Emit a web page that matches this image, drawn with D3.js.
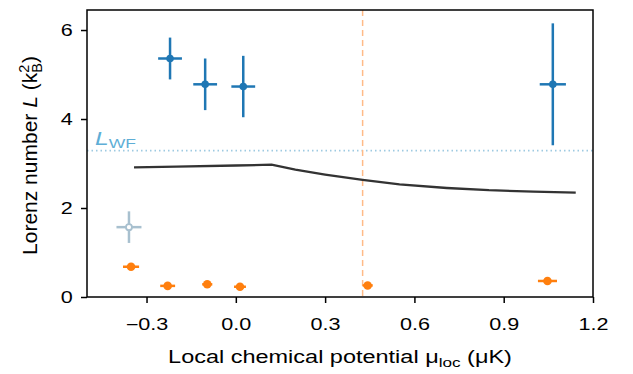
<!DOCTYPE html>
<html>
<head>
<meta charset="utf-8">
<script src="https://cdn.jsdelivr.net/npm/d3@7"></script>
<style>
  body { margin: 0; background: #fff; }
  #chart { width: 633px; height: 374px; }
  text { font-family: "Liberation Sans", Arial, Helvetica, sans-serif; }
</style>
</head>
<body>
<div id="chart"></div>
<script>
// measured Lorenz number (blue)
var blueMu   = [-0.221, -0.103, 0.025, 1.065],
    blueL    = [5.36, 4.78, 4.73, 4.78],
    blueLErr = [0.47, 0.58, 0.69, 1.37],
    blueMuErr = [0.04, 0.04, 0.04, 0.044];

// excluded point (hollow)
var hollowMu = [-0.359], hollowL = [1.57], hollowLErr = [0.355], hollowMuErr = [0.042];

// orange series
var orangeMu = [-0.352, -0.229, -0.096, 0.014, 0.443, 1.047],
    orangeL  = [0.68, 0.25, 0.285, 0.23, 0.26, 0.36],
    orangeLErr = [0.03, 0.03, 0.03, 0.03, 0.03, 0.03],
    orangeMuErr = [0.027, 0.025, 0.017, 0.02, 0.017, 0.032];

// theory curve
var curveMu = [-0.342, -0.2, 0.0, 0.12, 0.2, 0.3, 0.426, 0.55, 0.709, 0.85, 1.0, 1.142],
    curveL  = [2.915, 2.93, 2.955, 2.973, 2.86, 2.75, 2.63, 2.53, 2.45, 2.40, 2.37, 2.345];

var wfL = 3.29,        // Wiedemann-Franz value pi^2/3
    muVline = 0.426;

var xTicks = [-0.3, 0.0, 0.3, 0.6, 0.9, 1.2],
    yTicks = [0, 2, 4, 6];

var margin = {top: 10, right: 40, bottom: 77, left: 87},
    width = 633 - margin.left - margin.right,
    height = 374 - margin.top - margin.bottom;

// the figure's lettering is a bit wider than tall
var stretch = 1.35;

var x = d3.scaleLinear().domain([-0.5, 1.2]).range([0, width]),
    y = d3.scaleLinear().domain([0, 6.45]).range([height, 0]);

var svg = d3.select("#chart").append("svg")
    .attr("width", 633)
    .attr("height", 374)
    .append("g")
    .attr("transform", "translate(" + margin.left + "," + margin.top + ")");

function wideText(px, py, sx) {
    return svg.append("g")
        .attr("transform", "translate(" + px + "," + py + ") scale(" + sx + ",1)")
        .append("text");
}

// reference lines
svg.append("line")
    .attr("x1", 0).attr("x2", width)
    .attr("y1", y(wfL)).attr("y2", y(wfL))
    .attr("stroke", "#9ecae1")
    .attr("stroke-width", 1.6)
    .attr("stroke-dasharray", "1.5,3");

wideText(8, y(wfL) - 6, 1.3)
    .attr("fill", "#5eaed6")
    .style("font-size", "19px")
    .call(function (t) {
        t.append("tspan").style("font-style", "italic").text("L");
        t.append("tspan").attr("dy", 3).style("font-size", "13.5px").text("WF");
    });

svg.append("line")
    .attr("x1", x(muVline)).attr("x2", x(muVline))
    .attr("y1", 0).attr("y2", height)
    .attr("stroke", "#ffbb88")
    .attr("stroke-width", 1.5)
    .attr("stroke-dasharray", "6,4");

// theory curve
var line = d3.line()
    .x(function (d) { return x(d[0]); })
    .y(function (d) { return y(d[1]); });

svg.append("path")
    .datum(d3.zip(curveMu, curveL))
    .attr("d", line)
    .attr("fill", "none")
    .attr("stroke", "#333")
    .attr("stroke-width", 2.3);

function errorPoints(mu, L, muErr, LErr, color, r, hollow) {
    var data = mu.map(function (m, i) {
        return {mu: m, L: L[i], me: muErr[i], le: LErr[i]};
    });
    var g = svg.append("g");
    g.selectAll(".v").data(data).enter().append("line")
        .attr("x1", function (d) { return x(d.mu); })
        .attr("x2", function (d) { return x(d.mu); })
        .attr("y1", function (d) { return y(d.L - d.le); })
        .attr("y2", function (d) { return y(d.L + d.le); })
        .attr("stroke", color).attr("stroke-width", 2.5);
    g.selectAll(".h").data(data).enter().append("line")
        .attr("x1", function (d) { return x(d.mu - d.me); })
        .attr("x2", function (d) { return x(d.mu + d.me); })
        .attr("y1", function (d) { return y(d.L); })
        .attr("y2", function (d) { return y(d.L); })
        .attr("stroke", color).attr("stroke-width", 2.5);
    g.selectAll("circle").data(data).enter().append("circle")
        .attr("cx", function (d) { return x(d.mu); })
        .attr("cy", function (d) { return y(d.L); })
        .attr("r", r)
        .attr("fill", hollow ? "#fff" : color)
        .attr("stroke", color)
        .attr("stroke-width", hollow ? 1.8 : 0);
}

errorPoints(hollowMu, hollowL, hollowMuErr, hollowLErr, "#a8c0cf", 3, true);
errorPoints(blueMu, blueL, blueMuErr, blueLErr, "#1f77b4", 3.8, false);
errorPoints(orangeMu, orangeL, orangeMuErr, orangeLErr, "#ff7f0e", 4.3, false);

// axes
var fmt = function (d) { return d3.format(".1f")(d).replace("-", "\u2013"); };

var xAxis = svg.append("g")
    .attr("transform", "translate(0," + height + ")")
    .call(d3.axisBottom(x).tickValues(xTicks).tickFormat(fmt).tickSize(6).tickPadding(16));

var yAxis = svg.append("g")
    .call(d3.axisLeft(y).tickValues(yTicks).tickFormat(d3.format("d")).tickSize(6).tickPadding(4.5));

[xAxis, yAxis].forEach(function (a) {
    a.select(".domain").remove();
    a.selectAll("line").attr("stroke", "#000").attr("stroke-width", 1.5);
    a.selectAll("text")
        .attr("fill", "#000")
        .attr("transform", "scale(" + stretch + ",1)")
        .style("font-size", "16px")
        .style("font-family", "'Liberation Sans', Arial, sans-serif");
});

// frame
svg.append("rect")
    .attr("width", width).attr("height", height)
    .attr("fill", "none")
    .attr("stroke", "#000")
    .attr("stroke-width", 1.5);

// axis labels
wideText(width / 2, height + 66, 1.27)
    .attr("text-anchor", "middle")
    .style("font-size", "18.5px")
    .call(function (t) {
        t.append("tspan").text("Local chemical potential \u03bc");
        t.append("tspan").attr("dy", 4).style("font-size", "13.5px").text("loc");
        t.append("tspan").attr("dy", -4).text(" (\u03bcK)");
    });

svg.append("text")
    .attr("transform", "translate(" + (-50) + "," + (height / 2 + 2) + ") rotate(-90)")
    .attr("text-anchor", "middle")
    .style("font-size", "21px")
    .call(function (t) {
        t.append("tspan").text("Lorenz number ");
        t.append("tspan").style("font-style", "italic").text("L");
        t.append("tspan").text(" (k");
        t.append("tspan").attr("dy", -8).style("font-size", "14.5px").text("2");
        t.append("tspan").attr("dx", -8).attr("dy", 13).style("font-size", "14.5px").text("B");
        t.append("tspan").attr("dy", -5).text(")");
    });
</script>
</body>
</html>
